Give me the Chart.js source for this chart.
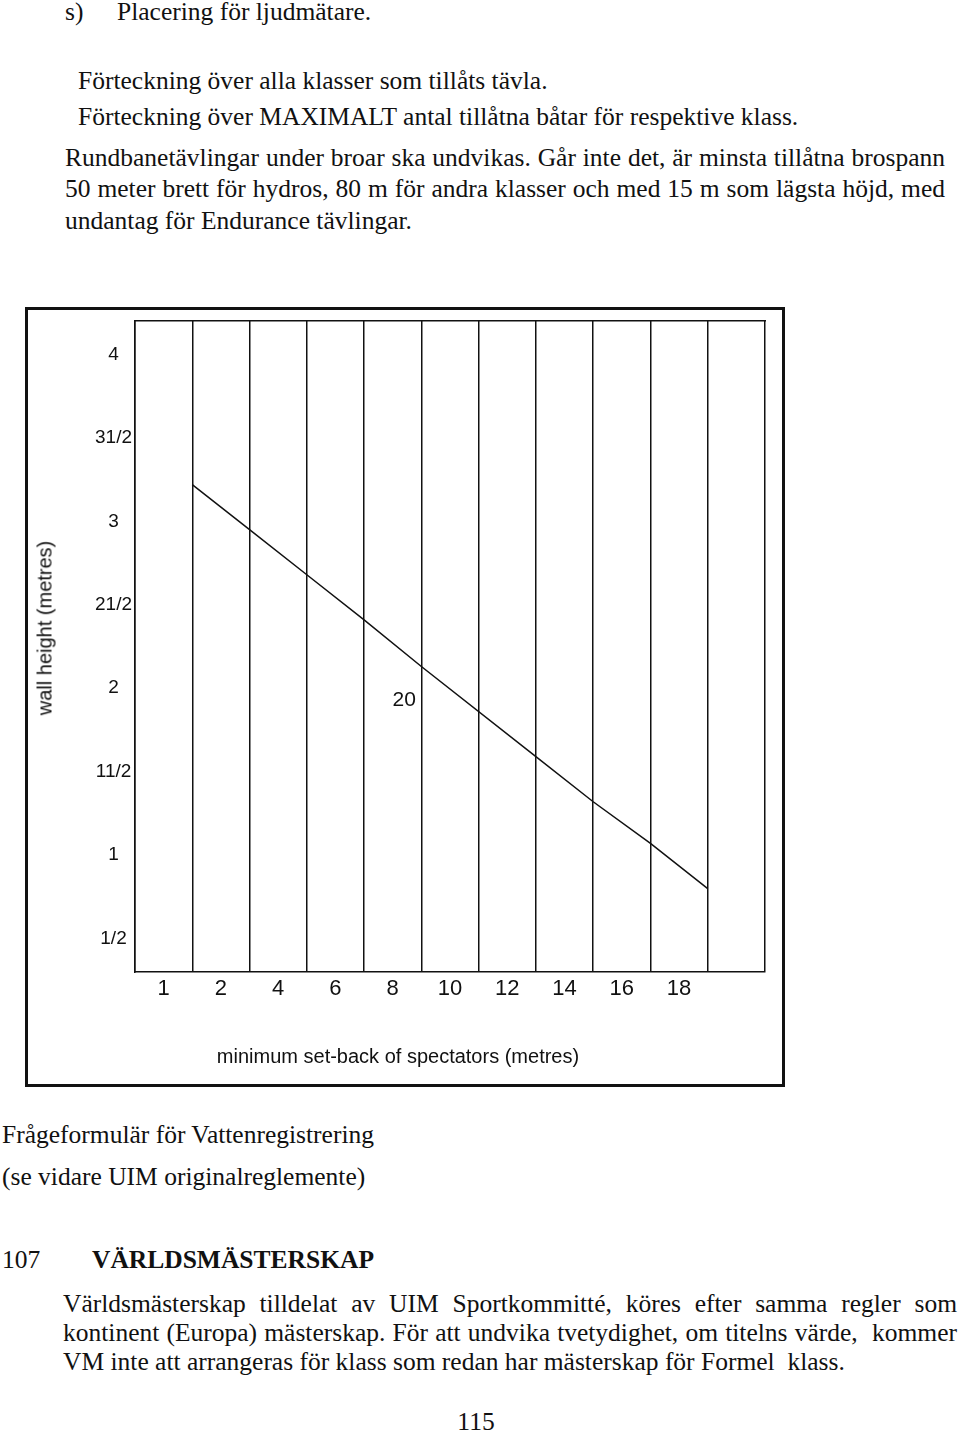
<!DOCTYPE html>
<html>
<head>
<meta charset="utf-8">
<script src="https://cdn.jsdelivr.net/npm/chart.js@4.4.1/dist/chart.umd.min.js"></script>
<style>
  html, body { margin: 0; padding: 0; background: #fff; }
  body { position: relative; width: 960px; height: 1434px; overflow: hidden; color: #111; }
  .ln { position: absolute; white-space: nowrap; font-family: "Liberation Serif", serif; font-size: 25.5px; line-height: 25.5px; }
  .just { text-align: justify; text-align-last: justify; }
  .box { position: absolute; left: 25px; top: 307px; width: 760px; height: 780px; box-sizing: border-box; border: 3px solid #111; }
  #chartWrap { position: absolute; left: 0; top: 290px; width: 960px; height: 800px; }
  .axt { position: absolute; white-space: nowrap; font-family: "Liberation Sans", Arial, sans-serif; color: #111; }
</style>
</head>
<body>
  <div class="ln" style="left:65px; top:-1px;">s)</div>
  <div class="ln" style="left:117px; top:-1px;">Placering för ljudmätare.</div>
  <div class="ln" style="left:78px; top:68px;">Förteckning över alla klasser som tillåts tävla.</div>
  <div class="ln" style="left:78px; top:104px;">Förteckning över MAXIMALT antal tillåtna båtar för respektive klass.</div>
  <div class="ln just" style="left:65px; top:145px; width:880px;">Rundbanetävlingar under broar ska undvikas. Går inte det, är minsta tillåtna brospann</div>
  <div class="ln just" style="left:65px; top:176px; width:880px;">50 meter brett för hydros, 80 m för andra klasser och med 15 m som lägsta höjd, med</div>
  <div class="ln" style="left:65px; top:208px;">undantag för Endurance tävlingar.</div>

  <div class="box"></div>
  <div id="chartWrap"><canvas id="wallChart" width="960" height="800"></canvas></div>
  <div class="axt" id="yTitle" style="font-size:20px; left:45px; top:628px; transform: translate(-50%, -50%) rotate(-90deg);">wall height (metres)</div>
  <div class="axt" id="xTitle" style="font-size:20px; left:398px; top:1056px; transform: translate(-50%, -50%);">minimum set-back of spectators (metres)</div>

  <div class="ln" style="left:2px; top:1122px;">Frågeformulär för Vattenregistrering</div>
  <div class="ln" style="left:2px; top:1164px;">(se vidare UIM originalreglemente)</div>
  <div class="ln" style="left:2px; top:1247px;">107</div>
  <div class="ln" style="left:92px; top:1247px; font-weight:bold;">VÄRLDSMÄSTERSKAP</div>
  <div class="ln just" style="left:63px; top:1291px; width:894px;">Världsmästerskap tilldelat av UIM Sportkommitté, köres efter samma regler som</div>
  <div class="ln just" style="left:63px; top:1320px; width:894px;">kontinent (Europa) mästerskap. För att undvika tvetydighet, om titelns värde,&nbsp; kommer</div>
  <div class="ln" style="left:63px; top:1349px;">VM inte att arrangeras för klass som redan har mästerskap för Formel&nbsp; klass.</div>
  <div class="ln" style="left:476px; top:1409px; transform: translateX(-50%);">115</div>

<script>
// x axis: one column per set-back label, the last column has no label
const setbackLabels = ["1", "2", "4", "6", "8", "10", "12", "14", "16", "18"];
const columnCount = 11;

// y axis ticks as printed in the scan
const heightTicks = [0.5, 1, 1.5, 2, 2.5, 3, 3.5, 4];
const heightTickLabels = ["1/2", "1", "11/2", "2", "21/2", "3", "31/2", "4"];

// the sloping line, read where it crosses the column boundaries
const boundaryX = [1, 2, 3, 4, 5, 7, 8, 9, 10];
const wallHeight = [3.22, 2.95, 2.68, 2.41, 2.13, 1.59, 1.32, 1.07, 0.80];

// the "20" printed inside the plot
const insideLabels = ["20"];
const insideLabelX = [4.7];
const insideLabelY = [1.93];

Chart.defaults.font.family = "'Liberation Sans', Arial, sans-serif";
Chart.defaults.color = "#111";

const ink = "#111";

const insideText = {
  id: "insideText",
  afterDatasetsDraw(chart) {
    const { ctx, scales } = chart;
    ctx.save();
    ctx.font = "21px 'Liberation Sans', Arial, sans-serif";
    ctx.fillStyle = ink;
    ctx.textAlign = "center";
    ctx.textBaseline = "middle";
    insideLabels.forEach((t, i) => {
      ctx.fillText(t, scales.x.getPixelForValue(insideLabelX[i]), scales.y.getPixelForValue(insideLabelY[i]));
    });
    ctx.restore();
  }
};

new Chart(document.getElementById("wallChart"), {
  type: "line",
  data: {
    datasets: [{
      data: boundaryX.map((x, i) => ({ x: x, y: wallHeight[i] })),
      borderColor: ink,
      borderWidth: 1.5,
      pointRadius: 0,
      tension: 0,
      fill: false
    }]
  },
  options: {
    responsive: false,
    animation: false,
    devicePixelRatio: 1,
    layout: { padding: { left: 75, right: 195, top: 31, bottom: 78 } },
    plugins: { legend: { display: false }, tooltip: { enabled: false } },
    scales: {
      x: {
        type: "linear",
        position: "bottom",
        min: 0,
        max: columnCount,
        afterFit: s => { s.height = 40; },
        border: { display: true, color: ink, width: 1.5 },
        grid: {
          drawTicks: false,
          lineWidth: 1.5,
          color: c => Number.isInteger(c.tick.value) ? ink : "rgba(0,0,0,0)"
        },
        ticks: {
          stepSize: 0.5,
          autoSkip: false,
          maxRotation: 0,
          padding: 4,
          font: { size: 22 },
          color: ink,
          callback: v => {
            const i = Math.floor(v);
            return (v - i === 0.5 && setbackLabels[i]) ? setbackLabels[i] : "";
          }
        }
      },
      xTop: {
        type: "linear",
        position: "top",
        min: 0,
        max: columnCount,
        afterFit: s => { s.height = 0; },
        border: { display: true, color: ink, width: 1.5 },
        grid: { display: false, drawTicks: false },
        ticks: { display: false }
      },
      y: {
        type: "linear",
        position: "left",
        min: 0.3,
        max: 4.2,
        afterFit: s => { s.width = 60; },
        border: { display: true, color: ink, width: 1.5 },
        grid: { display: false, drawTicks: false },
        ticks: {
          stepSize: 0.5,
          includeBounds: false,
          crossAlign: "center",
          padding: 3,
          font: { size: 19 },
          color: ink,
          callback: v => {
            const i = heightTicks.indexOf(v);
            return i >= 0 ? heightTickLabels[i] : "";
          }
        }
      }
    }
  },
  plugins: [insideText]
});
</script>
</body>
</html>
